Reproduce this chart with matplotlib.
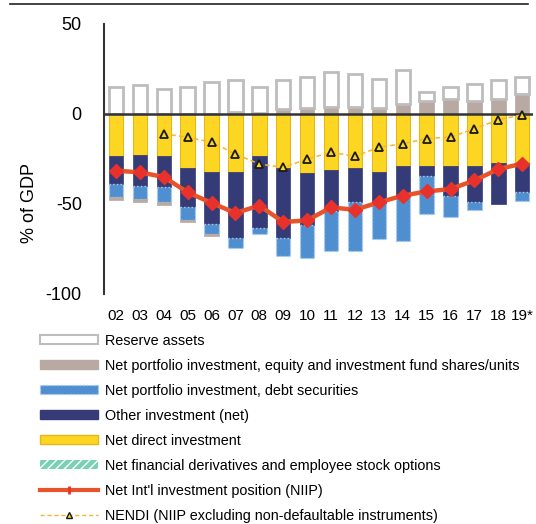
import numpy as np
import matplotlib
matplotlib.use("Agg")
import matplotlib.pyplot as plt
from matplotlib.patches import Patch
from matplotlib.lines import Line2D

plt.rcParams['font.family'] = ['Liberation Sans', 'DejaVu Sans']

years = ['02', '03', '04', '05', '06', '07', '08', '09', '10', '11', '12',
         '13', '14', '15', '16', '17', '18', '19*']
reserves = [14.8, 15.9, 13.9, 14.8, 17.6, 17.7, 14.0, 15.9, 17.2, 19.6, 18.7,
            16.1, 18.9, 4.6, 6.5, 9.4, 10.4, 9.2]
equity = [-1.8, -1.5, -1.5, -1.5, -1.5, 1.0, 0.8, 2.8, 3.3, 3.7, 3.7,
          3.3, 5.3, 6.6, 7.5, 7.4, 8.3, 11.3]
debt = [-7.0, -7.4, -8.5, -6.8, -5.4, -5.5, -3.2, -9.8, -18.5, -22.2, -27.2,
        -20.0, -26.0, -20.7, -11.4, -4.1, 0.0, -5.2]
other = [-15.4, -17.2, -17.1, -21.9, -29.1, -36.9, -39.8, -38.9, -28.7, -23.1,
         -19.1, -17.4, -15.7, -5.6, -16.7, -20.0, -22.6, -16.1]
direct = [-23.5, -22.6, -23.5, -30.0, -32.0, -32.0, -23.5, -30.0, -32.8, -31.0,
          -30.0, -32.0, -29.1, -29.1, -29.1, -29.1, -27.2, -27.2]
derivatives = [0, 0, 0, 0, 0, 0, 0, 0, 0, 0, 0, 0, 0, 0.8, 0.8, 0, 0, 0]
niip = [-31.5, -32.4, -35.0, -43.5, -49.4, -55.0, -50.9, -60.0, -59.1, -51.9,
        -53.2, -49.1, -45.4, -43.0, -41.7, -36.9, -30.6, -27.6]
nendi = [np.nan, np.nan, -10.9, -13.0, -15.6, -22.2, -27.8, -29.7, -25.0, -21.3,
         -23.5, -18.5, -16.5, -13.7, -12.8, -8.2, -3.2, -0.4]

c_res_edge = '#bdbdbd'
c_eq = '#b8aaa3'
c_debt = '#4f8fd0'
c_other = '#343b77'
c_direct = '#fdd623'
c_direct_edge = '#e3b81c'
c_deriv = '#79d1b3'
c_niip = '#e9532b'
c_niip_mk = '#e8312a'
c_nendi = '#f7b52c'

fig = plt.figure(figsize=(5.36, 5.24), dpi=100)
ax = fig.add_axes([104/536, 1-294/524, 429/536, 270/524])

x = np.arange(len(years))
w = 0.6
pos_base = np.zeros(len(x))
neg_base = np.zeros(len(x))

def stack(vals, **kw):
    global pos_base, neg_base
    v = np.array(vals, dtype=float)
    pos = np.where(v > 0, v, 0)
    neg = np.where(v < 0, v, 0)
    if pos.any():
        idx = pos > 0
        ax.bar(x[idx], pos[idx], w, bottom=pos_base[idx], **kw)
    if neg.any():
        idx = neg < 0
        ax.bar(x[idx], neg[idx], w, bottom=neg_base[idx], **kw)
    pos_base = pos_base + pos
    neg_base = neg_base + neg

stack(direct, color=c_direct, edgecolor=c_direct_edge, linewidth=0.8, zorder=2)
stack(other, color=c_other, edgecolor=c_other, linewidth=0.5, zorder=2)
stack(debt, color=c_debt, edgecolor='#a9cdf0', linewidth=1.0, linestyle=':', zorder=2)
stack(derivatives, color=c_deriv, edgecolor='white', hatch='////', linewidth=0, zorder=2)
stack(equity, color=c_eq, edgecolor=c_eq, linewidth=0.5, zorder=2)
stack(reserves, facecolor='white', edgecolor=c_res_edge, linewidth=2.0, zorder=2)

ax.axhline(0, color='#333333', linewidth=1.8, zorder=3)

ax.plot(x, nendi, color=c_nendi, linestyle=(0, (3, 2)), linewidth=1.1,
        marker='^', markersize=6, markerfacecolor='#fdd623',
        markeredgecolor='#1a1a1a', markeredgewidth=1.3, zorder=4)
ax.plot(x, niip, color=c_niip, linewidth=3.2, marker='D', markersize=7,
        markerfacecolor=c_niip_mk, markeredgecolor=c_niip_mk, zorder=5)

ax.set_ylim(-100, 50)
ax.set_xlim(-0.5, 17.45)
ax.set_yticks([-100, -50, 0, 50])
ax.set_yticklabels(['-100', '-50', '0', '50'], fontsize=13)
ax.set_xticks(x)
ax.set_xticklabels(years, fontsize=11)
ax.tick_params(axis='both', length=0)
ax.tick_params(axis='x', pad=11)
ax.tick_params(axis='y', pad=16)
for s in ['top', 'right', 'bottom']:
    ax.spines[s].set_visible(False)
ax.spines['left'].set_color('#333333')
ax.spines['left'].set_linewidth(1.5)
ax.set_ylabel('% of GDP', fontsize=13)
ax.yaxis.set_label_coords(-0.155, 0.337)

fig.add_artist(Line2D([10/536, 528/536], [1-4/524, 1-4/524], color='#222222',
                      linewidth=1.2))

handles = [
    Patch(facecolor='white', edgecolor=c_res_edge, linewidth=1.5),
    Patch(facecolor=c_eq, edgecolor=c_eq),
    Patch(facecolor=c_debt, edgecolor='#a9cdf0', linestyle=':', linewidth=1),
    Patch(facecolor=c_other, edgecolor=c_other),
    Patch(facecolor=c_direct, edgecolor=c_direct_edge, linewidth=1),
    Patch(facecolor=c_deriv, edgecolor='white', hatch='////', linewidth=0),
    Line2D([], [], color=c_niip, linewidth=3, marker='|', markersize=6,
           markeredgecolor=c_niip_mk, markeredgewidth=2),
    Line2D([], [], color=c_nendi, linewidth=1, linestyle=(0, (3, 2)),
           marker='^', markersize=5, markerfacecolor='#fdd623',
           markeredgecolor='#1a1a1a'),
]
labels = [
    'Reserve assets',
    'Net portfolio investment, equity and investment fund shares/units',
    'Net portfolio investment, debt securities',
    'Other investment (net)',
    'Net direct investment',
    'Net financial derivatives and employee stock options',
    "Net Int'l investment position (NIIP)",
    'NENDI (NIIP excluding non-defaultable instruments)',
]
fig.legend(handles, labels, loc='upper left',
           bbox_to_anchor=(40/536, 1-334/524), frameon=False, fontsize=10.4,
           handlelength=4.0, handleheight=0.6, handletextpad=0.5,
           labelspacing=0.76, borderpad=0, borderaxespad=0)

fig.savefig('out.png', dpi=100)
